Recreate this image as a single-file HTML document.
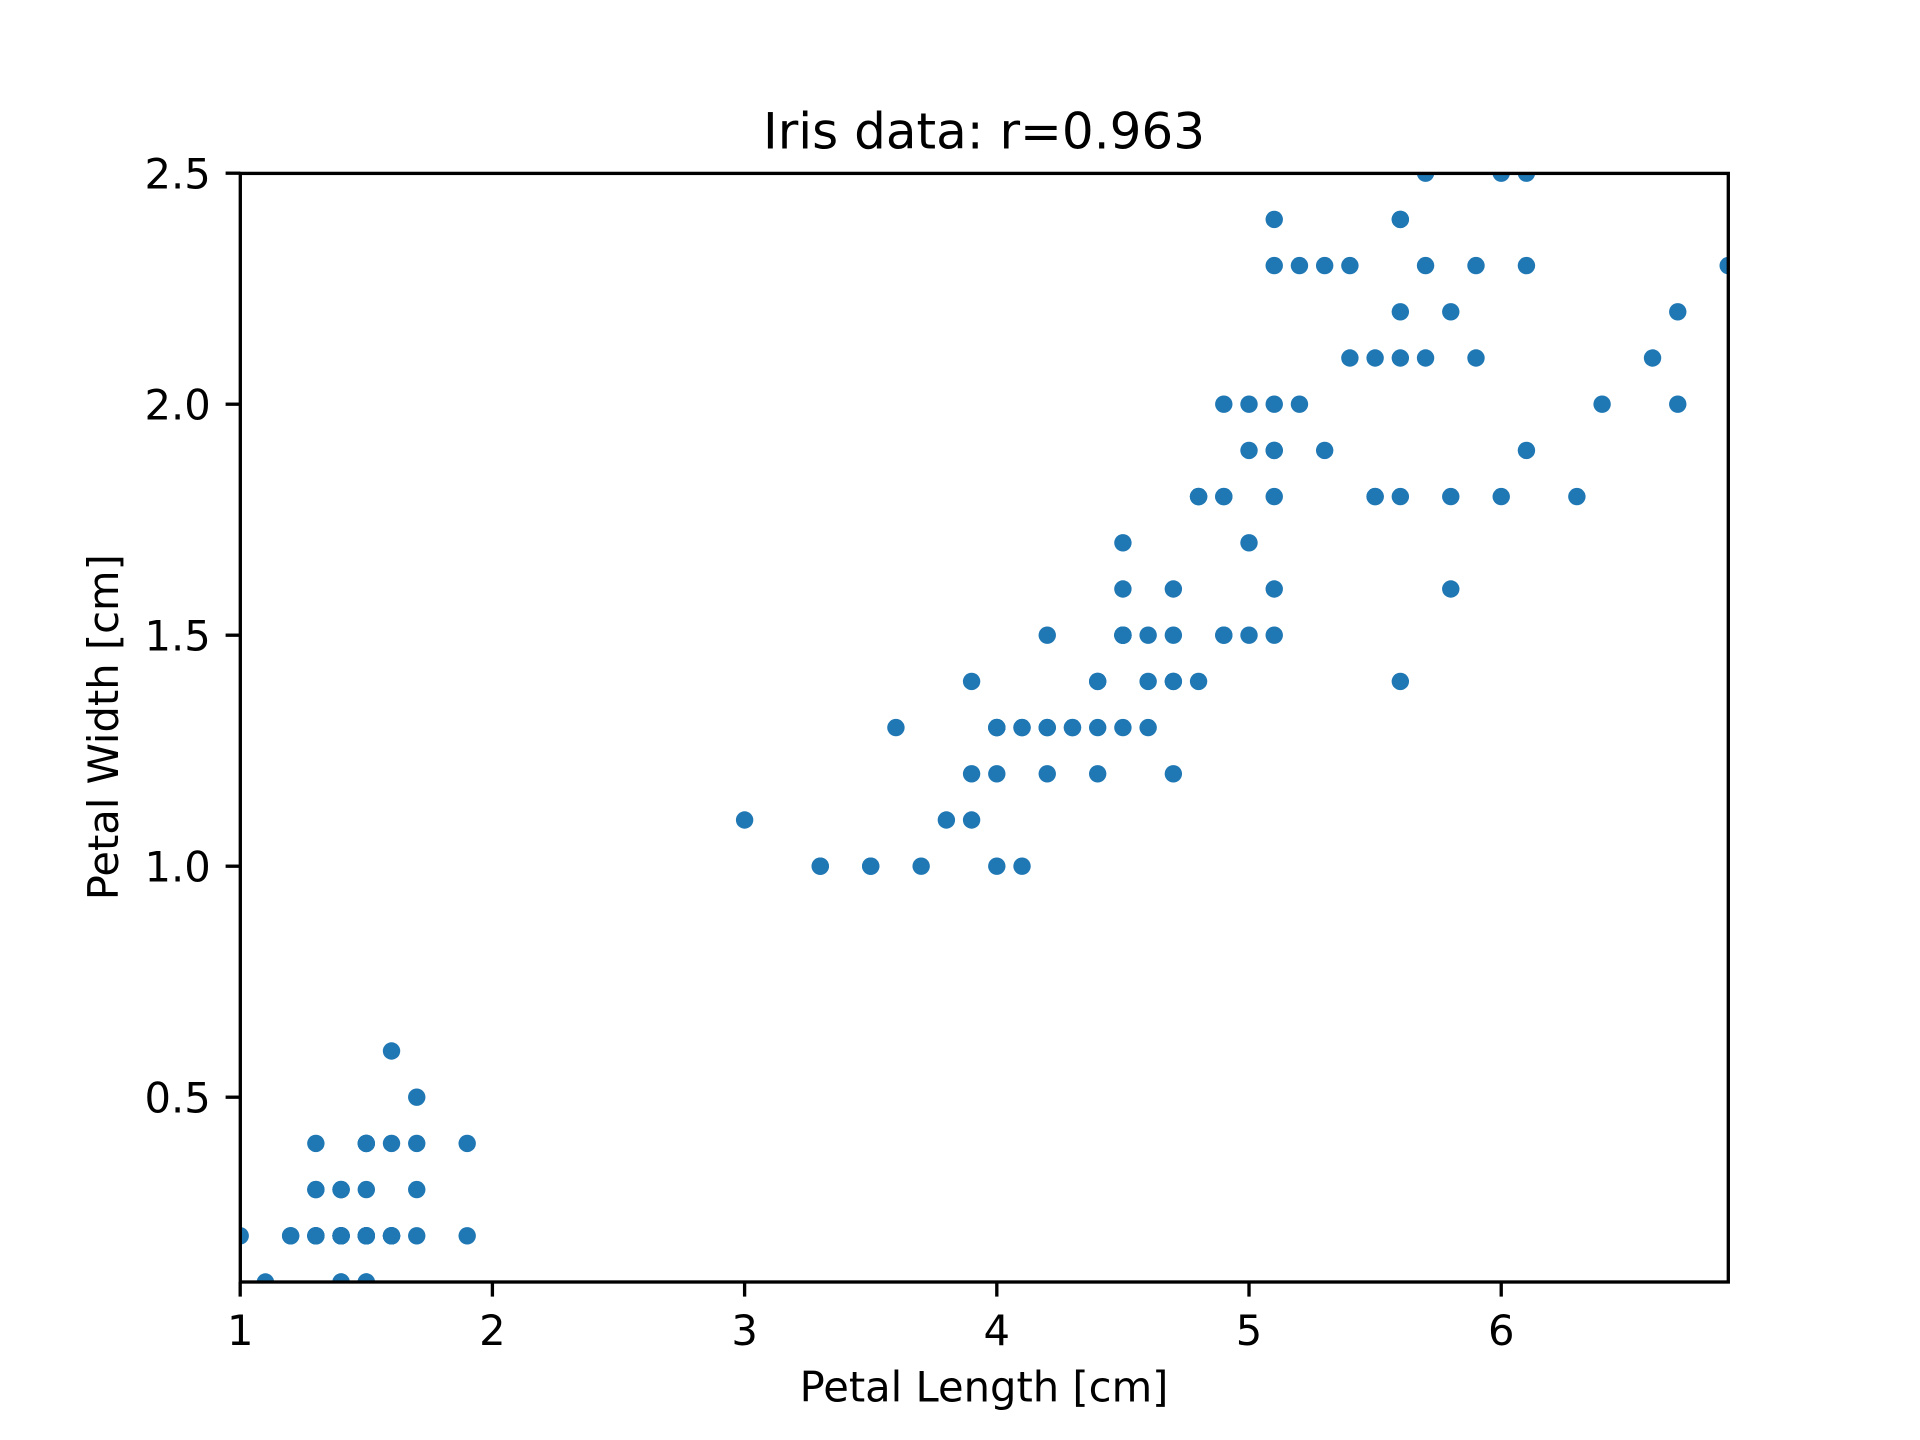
<!DOCTYPE html>
<html>
<head>
<meta charset="utf-8">
<title>Iris data</title>
<style>
html,body{margin:0;padding:0;background:#fff;width:1920px;height:1440px;overflow:hidden}
svg{display:block}
text{font-family:"DejaVu Sans","Liberation Sans",sans-serif;fill:#000}
</style>
</head>
<body>
<svg id="chart" xmlns="http://www.w3.org/2000/svg" width="1920" height="1440" viewBox="0 0 1920 1440">
<rect x="0" y="0" width="1920" height="1440" fill="#ffffff"/>
<defs><clipPath id="plot-clip"><rect x="240.2" y="173.2" width="1488" height="1108.8"/></clipPath></defs>
<g id="points" clip-path="url(#plot-clip)"></g>
<g id="ticks"></g>
<rect x="240.3" y="173.4" width="1488" height="1108.6" fill="none" stroke="#000" stroke-width="3.33"/>
<text x="984" y="148.3" font-size="50" text-anchor="middle">Iris data: r=0.963</text>
<text x="984" y="1401.7" font-size="41.67" text-anchor="middle">Petal Length [cm]</text>
<text x="0" y="0" font-size="41.67" text-anchor="middle" transform="translate(118 727.2) rotate(-90)">Petal Width [cm]</text>
</svg>
<script>
const petalLength = [
1.4,1.4,1.3,1.5,1.4,1.7,1.4,1.5,1.4,1.5,1.5,1.6,1.4,1.1,1.2,1.5,1.3,1.4,1.7,1.5,1.7,1.5,1.0,1.7,1.9,1.6,1.6,1.5,1.4,1.6,1.6,1.5,1.5,1.4,1.5,1.2,1.3,1.4,1.3,1.5,1.3,1.3,1.3,1.6,1.9,1.4,1.6,1.4,1.5,1.4,
4.7,4.5,4.9,4.0,4.6,4.5,4.7,3.3,4.6,3.9,3.5,4.2,4.0,4.7,3.6,4.4,4.5,4.1,4.5,3.9,4.8,4.0,4.9,4.7,4.3,4.4,4.8,5.0,4.5,3.5,3.8,3.7,3.9,5.1,4.5,4.5,4.7,4.4,4.1,4.0,4.4,4.6,4.0,3.3,4.2,4.2,4.2,4.3,3.0,4.1,
6.0,5.1,5.9,5.6,5.8,6.6,4.5,6.3,5.8,6.1,5.1,5.3,5.5,5.0,5.1,5.3,5.5,6.7,6.9,5.0,5.7,4.9,6.7,4.9,5.7,6.0,4.8,4.9,5.6,5.8,6.1,6.4,5.6,5.1,5.6,6.1,5.6,5.5,4.8,5.4,5.6,5.1,5.1,5.9,5.7,5.2,5.0,5.2,5.4,5.1
];
const petalWidth = [
0.2,0.2,0.2,0.2,0.2,0.4,0.3,0.2,0.2,0.1,0.2,0.2,0.1,0.1,0.2,0.4,0.4,0.3,0.3,0.3,0.2,0.4,0.2,0.5,0.2,0.2,0.4,0.2,0.2,0.2,0.2,0.4,0.1,0.2,0.2,0.2,0.2,0.1,0.2,0.2,0.3,0.3,0.2,0.6,0.4,0.3,0.2,0.2,0.2,0.2,
1.4,1.5,1.5,1.3,1.5,1.3,1.6,1.0,1.3,1.4,1.0,1.5,1.0,1.4,1.3,1.4,1.5,1.0,1.5,1.1,1.8,1.3,1.5,1.2,1.3,1.4,1.4,1.7,1.5,1.0,1.1,1.0,1.2,1.6,1.5,1.6,1.5,1.3,1.3,1.3,1.2,1.4,1.2,1.0,1.3,1.2,1.3,1.3,1.1,1.3,
2.5,1.9,2.1,1.8,2.2,2.1,1.7,1.8,1.8,2.5,2.0,1.9,2.1,2.0,2.4,2.3,1.8,2.2,2.3,1.5,2.3,2.0,2.0,1.8,2.1,1.8,1.8,1.8,2.1,1.6,1.9,2.0,2.2,1.5,1.4,2.3,2.4,1.8,1.8,2.1,2.4,2.3,1.9,2.3,2.5,2.3,1.9,2.0,2.3,1.8
];
const xTicks = [1, 2, 3, 4, 5, 6];
const xTickLabels = ['1', '2', '3', '4', '5', '6'];
const yTicks = [0.5, 1.0, 1.5, 2.0, 2.5];
const yTickLabels = ['0.5', '1.0', '1.5', '2.0', '2.5'];
const xDomain = [1, 6.9];
const yDomain = [0.1, 2.5];

const NS = 'http://www.w3.org/2000/svg';
function sx(v) { return 240.2 + (v - xDomain[0]) / (xDomain[1] - xDomain[0]) * 1488; }
function sy(v) { return 1282 - (v - yDomain[0]) / (yDomain[1] - yDomain[0]) * 1108.8; }

const pointsLayer = document.getElementById('points');
petalLength.forEach(function (len, i) {
  const c = document.createElementNS(NS, 'circle');
  
  
  c.setAttribute('cx', sx(len));
  c.setAttribute('cy', sy(petalWidth[i]));
  c.setAttribute('r', 8.7);
  c.setAttribute('fill', '#1f77b4');
  pointsLayer.appendChild(c);
});

const ticksLayer = document.getElementById('ticks');
xTicks.forEach(function (v, i) {
  const t = document.createElementNS(NS, 'line');
  
  
  t.setAttribute('x1', sx(v));
  t.setAttribute('x2', sx(v));
  t.setAttribute('y1', 1282);
  t.setAttribute('y2', 1296.6);
  t.setAttribute('stroke', '#000');
  t.setAttribute('stroke-width', 3.33);
  ticksLayer.appendChild(t);
  const l = document.createElementNS(NS, 'text');
  
  
  l.setAttribute('x', sx(v));
  l.setAttribute('y', 1345);
  l.setAttribute('font-size', 41.67);
  l.setAttribute('text-anchor', 'middle');
  l.textContent = xTickLabels[i];
  ticksLayer.appendChild(l);
});
yTicks.forEach(function (v, i) {
  const t = document.createElementNS(NS, 'line');
  
  
  t.setAttribute('x1', 225.6);
  t.setAttribute('x2', 240.3);
  t.setAttribute('y1', sy(v));
  t.setAttribute('y2', sy(v));
  t.setAttribute('stroke', '#000');
  t.setAttribute('stroke-width', 3.33);
  ticksLayer.appendChild(t);
  const l = document.createElementNS(NS, 'text');
  
  
  l.setAttribute('x', 210.8);
  l.setAttribute('y', sy(v) + 15.1);
  l.setAttribute('font-size', 41.67);
  l.setAttribute('text-anchor', 'end');
  l.textContent = yTickLabels[i];
  ticksLayer.appendChild(l);
});
</script>
</body>
</html>
